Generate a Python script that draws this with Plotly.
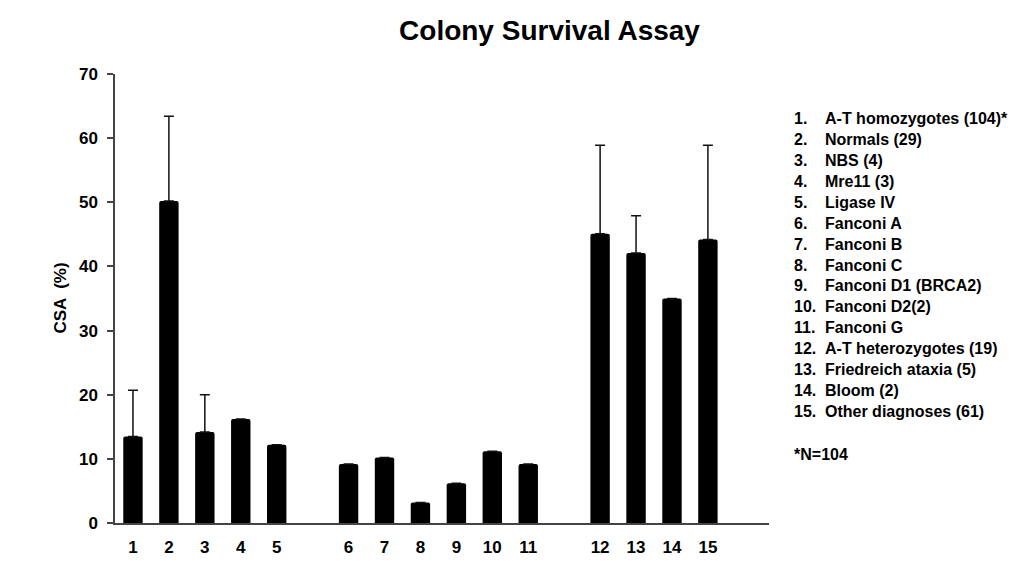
import plotly.graph_objects as go
import numpy as np

# Data
labels = [str(i) for i in range(1, 16)]
groups = [5, 6, 4]  # bars per group, separated by a blank slot
values = [13.5, 50.2, 14.2, 16.2, 12.2, 9.2, 10.2, 3.2, 6.2, 11.2, 9.2, 45.1, 42.1, 35.0, 44.2]
errors = [7.2, 13.2, 5.8, None, None, None, None, None, None, None, None, 13.8, 5.8, None, 14.7]
legend_names = [
    "A-T homozygotes (104)*", "Normals (29)", "NBS (4)", "Mre11 (3)", "Ligase IV",
    "Fanconi A", "Fanconi B", "Fanconi C", "Fanconi D1 (BRCA2)", "Fanconi D2(2)",
    "Fanconi G", "A-T heterozygotes (19)", "Friedreich ataxia (5)", "Bloom (2)",
    "Other diagnoses (61)",
]
footnote = "*N=104"
title = "Colony Survival Assay"
ytitle = "CSA  (%)"

# slot positions: groups separated by one empty slot
xpos = []
slot = 1
for g in groups:
    for _ in range(g):
        xpos.append(slot)
        slot += 1
    slot += 1

FONT = "Liberation Sans, Arial, sans-serif"

fig = go.Figure()
fig.add_trace(go.Bar(
    x=xpos, y=values, width=0.54,
    marker=dict(color="black", line=dict(width=0), cornerradius=2),
    error_y=dict(type="data", array=[e if e is not None else np.nan for e in errors],
                 symmetric=False, arrayminus=[0] * len(values),
                 color="#111111", thickness=1.5, width=5),
    showlegend=False, hoverinfo="skip",
))

W, H = 1022, 561
L, R, T, B = 107, 261, 66, 31
pw = W - L - R
ph = H - T - B

def pxx(p):
    return (p - L) / pw

def pxy(p):
    return (H - B - p) / ph

LEG = 16
ann = []
for i, name in enumerate(legend_names):
    yc = 111.7 + i * 21.67
    ann.append(dict(text=f"<b>{i+1}.</b>", x=pxx(784), y=pxy(yc), xref="paper", yref="paper",
                    xanchor="left", yanchor="middle", showarrow=False,
                    font=dict(family=FONT, size=LEG, color="black")))
    ann.append(dict(text=f"<b>{name}</b>", x=pxx(815), y=pxy(yc), xref="paper", yref="paper",
                    xanchor="left", yanchor="middle", showarrow=False,
                    font=dict(family=FONT, size=LEG, color="black")))
ann.append(dict(text=f"<b>{footnote}</b>", x=pxx(784), y=pxy(459.3), xref="paper", yref="paper",
                xanchor="left", yanchor="middle", showarrow=False,
                font=dict(family=FONT, size=LEG, color="black")))
ann.append(dict(text=f"<b>{ytitle}</b>", x=pxx(52), y=pxy(298), xref="paper", yref="paper",
                xanchor="center", yanchor="middle", showarrow=False, textangle=-90,
                font=dict(family=FONT, size=17, color="black")))

fig.update_layout(
    width=W, height=H,
    margin=dict(l=L, r=R, t=T, b=B, pad=0),
    paper_bgcolor="white", plot_bgcolor="white",
    title=dict(text=f"<b>{title}</b>", x=541.5 / W, xanchor="center", xref="container",
               y=1 - 22 / H, yanchor="middle", yref="container",
               font=dict(family=FONT, size=28, color="black")),
    xaxis=dict(range=[0.5, 18.7], tickvals=xpos, ticktext=labels, showgrid=False,
               zeroline=False, showline=True, linecolor="#444444", linewidth=1.5,
               ticks="", tickfont=dict(family=FONT, size=17, color="black", weight="bold"),
               ticklabelstandoff=8),
    yaxis=dict(range=[0, 70], dtick=10, showgrid=False, zeroline=False, showline=True,
               linecolor="#444444", linewidth=1.5, ticks="outside", ticklen=6, tickwidth=1.5,
               tickcolor="#444444",
               tickfont=dict(family=FONT, size=17, color="black", weight="bold"),
               ticklabelstandoff=6),
    annotations=ann,
)

fig.write_html("out.html")
